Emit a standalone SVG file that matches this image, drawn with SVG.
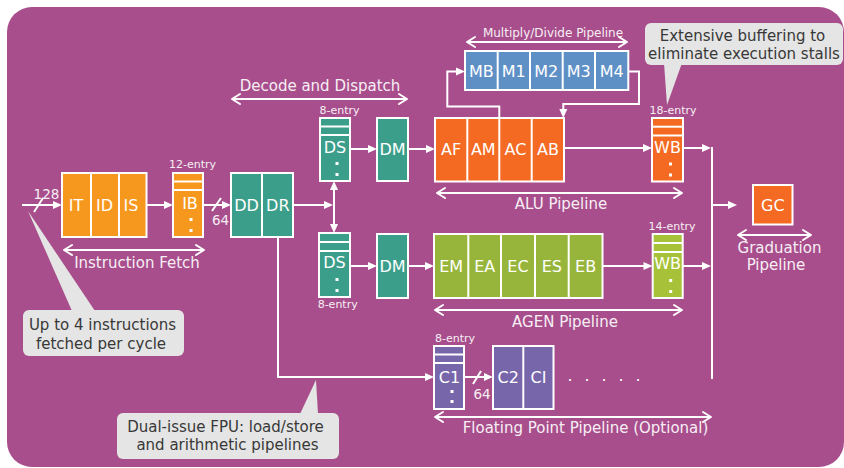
<svg xmlns="http://www.w3.org/2000/svg" width="844" height="468" viewBox="0 0 844 468">
<defs>
<style>
.bx{stroke:#fff;stroke-width:2}
.dv{stroke:#fff;stroke-width:2;fill:none}
.t{font-family:"DejaVu Sans",Verdana,sans-serif;fill:#fff;text-anchor:middle}
.bt{font-size:16px}
.lb{font-size:15px;fill:#F7EEF4}
.sm{font-size:11px;fill:#F7EEF4}
.nm{font-size:13.5px;fill:#F7EEF4}
.co{font-size:15px;fill:#383838}
.cn{stroke:#fff;stroke-width:2;fill:none}
.fa{marker-end:url(#ah)}
.fb{marker-start:url(#ah);marker-end:url(#ah)}
.da{marker-start:url(#ch);marker-end:url(#ch)}
.dot{fill:#fff}
.cl{fill:#E4E5E4}
.o1{fill:#F7981E}
.te{fill:#3B9E8B}
.o2{fill:#F46A22}
.bl{fill:#5E90C6}
.gr{fill:#97B53B}
.g2{fill:#A7C238}
.pu{fill:#7866AB}
</style>
<marker id="ah" markerUnits="userSpaceOnUse" markerWidth="12" markerHeight="12" viewBox="-10 -6 12 12" refX="-3" refY="0" orient="auto-start-reverse" overflow="visible">
<path d="M-9,-4 L0,0 L-9,4 Z" fill="#fff"/>
</marker>
<marker id="ch" markerUnits="userSpaceOnUse" markerWidth="12" markerHeight="12" viewBox="-10 -6 12 12" refX="0" refY="0" orient="auto-start-reverse" overflow="visible">
<path d="M-8,-5 L0,0 L-8,5" fill="none" stroke="#fff" stroke-width="2" stroke-linecap="round" stroke-linejoin="round"/>
</marker>
</defs>

<rect x="7" y="7" width="837" height="460" rx="25" fill="#A84E8C"/>

<g id="connectors">
<line class="cn fa" x1="22" y1="205" x2="59" y2="205"/>
<line class="cn" x1="34" y1="212" x2="43" y2="198"/>
<line class="cn fa" x1="147" y1="205" x2="170" y2="205"/>
<line class="cn fa" x1="203" y1="205" x2="228" y2="205"/>
<line class="cn" x1="212" y1="211" x2="221" y2="198"/>
<line class="cn fa" x1="293" y1="205" x2="330" y2="205"/>
<line class="cn fb" x1="334" y1="184" x2="334" y2="230"/>
<line class="cn fa" x1="350" y1="149" x2="374" y2="149"/>
<line class="cn fa" x1="408" y1="149" x2="432" y2="149"/>
<line class="cn fa" x1="564" y1="148" x2="649" y2="148"/>
<line class="cn fa" x1="683" y1="148" x2="708" y2="148"/>
<line class="cn" x1="712" y1="147" x2="712" y2="379"/>
<line class="cn fa" x1="712" y1="205" x2="734" y2="205"/>
<line class="cn fa" x1="350" y1="266" x2="374" y2="266"/>
<line class="cn fa" x1="408" y1="266" x2="431" y2="266"/>
<line class="cn fa" x1="602" y1="266" x2="649.5" y2="266"/>
<line class="cn fa" x1="683" y1="266" x2="708" y2="266"/>
<path class="cn fa" d="M278,237 V377 H431"/>
<line class="cn fa" x1="464" y1="377" x2="490" y2="377"/>
<line class="cn" x1="473" y1="384" x2="481" y2="371"/>
<path class="cn fa" d="M499.3,118 V106.5 H447.3 V71.5 H462"/>
<path class="cn fa" d="M628.3,71.5 H639 V104 H563.3 V115"/>
<line class="cn da" x1="64" y1="250" x2="204" y2="250"/>
<line class="cn da" x1="232" y1="99" x2="407" y2="99"/>
<line class="cn da" x1="467" y1="42" x2="627" y2="42"/>
<line class="cn da" x1="437" y1="193" x2="682" y2="193"/>
<line class="cn da" x1="435" y1="310" x2="682" y2="310"/>
<line class="cn da" x1="738" y1="235" x2="811" y2="235"/>
<line class="cn da" x1="435" y1="417" x2="711" y2="417"/>
</g>

<g id="fetch">
<rect class="bx o1" x="62" y="173" width="84.5" height="64"/>
<line class="dv" x1="91" y1="173" x2="91" y2="237"/>
<line class="dv" x1="119" y1="173" x2="119" y2="237"/>
<text class="t bt" x="76" y="211">IT</text>
<text class="t bt" x="104.5" y="211">ID</text>
<text class="t bt" x="131" y="211">IS</text>
</g>

<g id="ib">
<rect class="bx o1" x="173" y="173" width="30" height="64"/>
<line class="dv" x1="173" y1="181.5" x2="203" y2="181.5"/>
<line class="dv" x1="173" y1="190" x2="203" y2="190"/>
<text class="t bt" x="190" y="209">IB</text>
<rect class="dot" x="189.5" y="218" width="3" height="3"/>
<rect class="dot" x="189.5" y="229" width="3" height="3"/>
</g>

<g id="ddr">
<rect class="bx te" x="231" y="173" width="62" height="64"/>
<line class="dv" x1="262" y1="173" x2="262" y2="237"/>
<text class="t bt" x="246.5" y="211">DD</text>
<text class="t bt" x="277.8" y="211">DR</text>
</g>

<g id="ds1">
<rect class="bx te" x="320" y="118" width="30" height="63"/>
<line class="dv" x1="320" y1="126.5" x2="350" y2="126.5"/>
<line class="dv" x1="320" y1="135" x2="350" y2="135"/>
<text class="t bt" x="335" y="153">DS</text>
<rect class="dot" x="335.5" y="162" width="3" height="3"/>
<rect class="dot" x="335.5" y="173" width="3" height="3"/>
</g>

<g id="dm1">
<rect class="bx te" x="377" y="118" width="31" height="63"/>
<text class="t bt" x="392.5" y="155">DM</text>
</g>

<g id="ds2">
<rect class="bx te" x="319" y="233" width="31" height="64"/>
<line class="dv" x1="319" y1="242" x2="350" y2="242"/>
<line class="dv" x1="319" y1="251" x2="350" y2="251"/>
<text class="t bt" x="334.5" y="268">DS</text>
<rect class="dot" x="335.5" y="278" width="3" height="3"/>
<rect class="dot" x="335.5" y="289" width="3" height="3"/>
</g>

<g id="dm2">
<rect class="bx te" x="377" y="234" width="31" height="64"/>
<text class="t bt" x="392.5" y="272">DM</text>
</g>

<g id="alu">
<rect class="bx o2" x="435" y="118" width="129" height="63.5"/>
<line class="dv" x1="467.3" y1="118" x2="467.3" y2="181.5"/>
<line class="dv" x1="499.3" y1="118" x2="499.3" y2="181.5"/>
<line class="dv" x1="531.7" y1="118" x2="531.7" y2="181.5"/>
<text class="t bt" x="451.2" y="155">AF</text>
<text class="t bt" x="483.3" y="155">AM</text>
<text class="t bt" x="515.5" y="155">AC</text>
<text class="t bt" x="548" y="155">AB</text>
</g>

<g id="wb1">
<rect class="bx o2" x="652" y="118" width="31" height="63.5"/>
<line class="dv" x1="652" y1="126.7" x2="683" y2="126.7"/>
<line class="dv" x1="652" y1="135.5" x2="683" y2="135.5"/>
<text class="t bt" x="667.5" y="152.5">WB</text>
<rect class="dot" x="669" y="162.5" width="3" height="3"/>
<rect class="dot" x="669" y="173.5" width="3" height="3"/>
</g>

<g id="mdu">
<rect class="bx bl" x="465" y="51" width="163.3" height="39"/>
<line class="dv" x1="497.7" y1="51" x2="497.7" y2="90"/>
<line class="dv" x1="530" y1="51" x2="530" y2="90"/>
<line class="dv" x1="562.7" y1="51" x2="562.7" y2="90"/>
<line class="dv" x1="595" y1="51" x2="595" y2="90"/>
<text class="t bt" x="481.3" y="76.5">MB</text>
<text class="t bt" x="513.8" y="76.5">M1</text>
<text class="t bt" x="546.3" y="76.5">M2</text>
<text class="t bt" x="578.8" y="76.5">M3</text>
<text class="t bt" x="611.7" y="76.5">M4</text>
</g>

<g id="agen">
<rect class="bx gr" x="434" y="234" width="168.5" height="64"/>
<line class="dv" x1="468.3" y1="234" x2="468.3" y2="298"/>
<line class="dv" x1="501" y1="234" x2="501" y2="298"/>
<line class="dv" x1="535" y1="234" x2="535" y2="298"/>
<line class="dv" x1="568.7" y1="234" x2="568.7" y2="298"/>
<text class="t bt" x="451.2" y="272">EM</text>
<text class="t bt" x="484.7" y="272">EA</text>
<text class="t bt" x="518" y="272">EC</text>
<text class="t bt" x="551.8" y="272">ES</text>
<text class="t bt" x="585.6" y="272">EB</text>
</g>

<g id="wb2">
<rect class="bx g2" x="652.7" y="234" width="30" height="64"/>
<line class="dv" x1="652.7" y1="243" x2="682.7" y2="243"/>
<line class="dv" x1="652.7" y1="252" x2="682.7" y2="252"/>
<text class="t bt" x="667.7" y="269">WB</text>
<rect class="dot" x="669.2" y="279" width="3" height="3"/>
<rect class="dot" x="669.2" y="290" width="3" height="3"/>
</g>

<g id="gc">
<rect class="bx o2" x="753" y="185" width="39.5" height="39.5"/>
<text class="t bt" x="772.8" y="211">GC</text>
</g>

<g id="c1">
<rect class="bx pu" x="434" y="346" width="30" height="63"/>
<line class="dv" x1="434" y1="354.5" x2="464" y2="354.5"/>
<line class="dv" x1="434" y1="363" x2="464" y2="363"/>
<text class="t bt" x="449.5" y="383">C1</text>
<rect class="dot" x="450.5" y="390" width="3" height="3"/>
<rect class="dot" x="450.5" y="400" width="3" height="3"/>
</g>

<g id="c2ci">
<rect class="bx pu" x="493" y="346" width="60.5" height="63"/>
<line class="dv" x1="523.3" y1="346" x2="523.3" y2="409"/>
<text class="t bt" x="508.2" y="383">C2</text>
<text class="t bt" x="538.5" y="383">CI</text>
</g>

<g id="labels">
<text class="t nm" x="46.5" y="199">128</text>
<text class="t nm" x="220.5" y="225">64</text>
<text class="t nm" x="482" y="399">64</text>
<text class="t sm" x="192.5" y="168">12-entry</text>
<text class="t sm" x="339.5" y="113.5">8-entry</text>
<text class="t sm" x="337.7" y="308">8-entry</text>
<text class="t sm" x="673" y="114">18-entry</text>
<text class="t sm" x="672" y="230">14-entry</text>
<text class="t sm" x="455" y="341.5">8-entry</text>
<text class="t lb" x="137" y="268">Instruction Fetch</text>
<text class="t lb" x="320" y="91">Decode and Dispatch</text>
<text class="t" style="font-size:12px;fill:#F7EEF4" x="553" y="37">Multiply/Divide Pipeline</text>
<text class="t lb" x="561" y="209">ALU Pipeline</text>
<text class="t lb" x="565" y="327">AGEN Pipeline</text>
<text class="t lb" x="779.5" y="253">Graduation</text>
<text class="t lb" x="776" y="270">Pipeline</text>
<text class="t lb" x="585.5" y="433">Floating Point Pipeline (Optional)</text>
<text class="t" style="font-size:16px" x="570 587 604 621 638" y="381">.....</text>
</g>

<g id="callout-fetch">
<path class="cl" d="M28,211 L95,311 L72,311 Z"/>
<rect class="cl" x="23" y="310" width="161" height="46" rx="6"/>
<text class="t co" x="102.5" y="330">Up to 4 instructions</text>
<text class="t co" x="101" y="348.5">fetched per cycle</text>
</g>

<g id="callout-fpu">
<path class="cl" d="M316,380 L318,414 L300,414 Z"/>
<rect class="cl" x="117" y="413" width="222" height="46" rx="6"/>
<text class="t co" x="225.5" y="431.5">Dual-issue FPU: load/store</text>
<text class="t co" x="227.5" y="450">and arithmetic pipelines</text>
</g>

<g id="callout-buffer">
<path class="cl" d="M667,105 L664,63 L682,63 Z"/>
<rect class="cl" x="645" y="23" width="198" height="42" rx="6"/>
<text class="t co" x="742.5" y="41">Extensive buffering to</text>
<text class="t co" x="744" y="58.5">eliminate execution stalls</text>
</g>
</svg>
